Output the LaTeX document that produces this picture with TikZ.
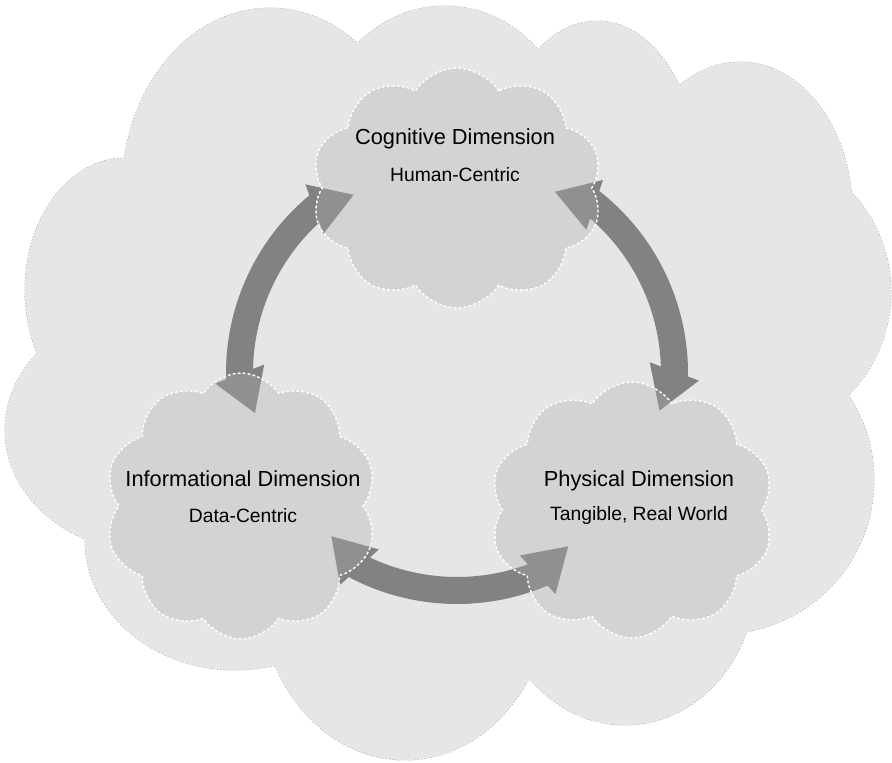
\documentclass[tikz,border=0pt]{standalone}
\usepackage{fontspec}
\setmainfont{Liberation Sans}
\usetikzlibrary{shapes.symbols,calc}
\definecolor{bigfill}{HTML}{E6E6E6}
\definecolor{bigline}{HTML}{A0A0A0}
\definecolor{arrowgray}{HTML}{828282}
\definecolor{dimfill}{HTML}{ADADAD}
\tikzset{
  puffline/.style={draw=bigline, line width=0.9pt, dash pattern=on 1.6pt off 1.6pt},
  puffcover/.style={fill=bigfill},
  dimcloud/.style={cloud, cloud puffs=10, cloud puff arc=115, inner sep=0pt,
    fill=dimfill, fill opacity=0.33, draw=white, draw opacity=1,
    line width=1.4pt, dash pattern=on 2.8pt off 2.2pt},
  dimtitle/.style={anchor=base, font=\fontsize{21.8}{24}\selectfont, text=black},
  dimsub/.style={anchor=base, font=\fontsize{19.3}{22}\selectfont, text=black},
  cyclearrow/.style={fill=arrowgray},
}
\newcommand\cyclearrowpath[2]{%
  \fill[cyclearrow] ({#1-3}:231) arc[start angle={#1-3}, end angle={#2+3}, radius=231]
     -- ({#2+3}:204) arc[start angle={#2+3}, end angle={#1-3}, radius=204] -- cycle;
  \fill[cyclearrow] ({#1-2.5}:242) -- ({#1-11.2}:206) -- ({#1+2.5}:193) -- cycle;
  \fill[cyclearrow] ({#2+2.5}:242) -- ({#2+11.2}:206) -- ({#2-2.5}:193) -- cycle;
}
\begin{document}
\begin{tikzpicture}[x=1pt,y=-1pt]
\useasboundingbox (0,0) rectangle (892,763);
% large enclosing cloud: outlines of all puffs, then fills to hide interior arcs
\foreach \cx/\cy/\rx/\ry in {270/190/148/182, 125/290/100/132, 150/430/145/122,
  235/540/150/130, 405/590/145/170, 625/580/130/145, 720/480/154/154,
  745/292/146/146, 740/210/112/148, 597/170/100/149, 445/150/130/144}
  {\draw[puffline] (\cx,\cy) ellipse [x radius=\rx, y radius=\ry];}
\foreach \cx/\cy/\rx/\ry in {270/190/148/182, 125/290/100/132, 150/430/145/122,
  235/540/150/130, 405/590/145/170, 625/580/130/145, 720/480/154/154,
  745/292/146/146, 740/210/112/148, 597/170/100/149, 445/150/130/144,
  450/390/300/280}
  {\fill[puffcover] (\cx,\cy) ellipse [x radius=\rx, y radius=\ry];}
% cycle arrows
\coordinate (hub) at (457,373);
\begin{scope}[shift={(hub)}, y=1pt]
  \cyclearrowpath{131.3}{180}
  \cyclearrowpath{0.7}{50.4}
  \cyclearrowpath{243.6}{291.5}
\end{scope}
% dimension clouds
\node[dimcloud, minimum width=291pt, minimum height=240pt] (cognitive) at (457,188) {};
\node[dimcloud, minimum width=272pt, minimum height=266pt] (informational) at (241,506) {};
\node[dimcloud, minimum width=284pt, minimum height=256pt] (physical) at (632,510) {};
% labels
\node[dimtitle] (cogT) at (455,144.3) {Cognitive Dimension};
\node[dimsub] (cogS) at (455,181.7) {Human-Centric};
\node[dimtitle] (infT) at (243,486) {Informational Dimension};
\node[dimsub] (infS) at (243,522.5) {Data-Centric};
\node[dimtitle] (phyT) at (639,486) {Physical Dimension};
\node[dimsub] (phyS) at (639,520) {Tangible, Real World};
\end{tikzpicture}
\end{document}
